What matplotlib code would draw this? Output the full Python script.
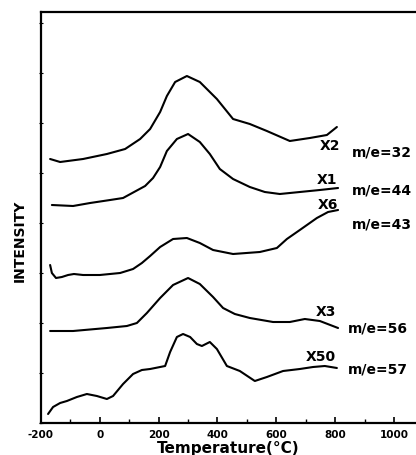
import matplotlib
matplotlib.use("Agg")
import matplotlib.pyplot as plt
from matplotlib.ticker import MultipleLocator

# Temperature (°C) and relative intensity (arbitrary units, stacked offsets as in the figure)
t_32 = [-169, -135, -57, 24, 86, 137, 171, 205, 228, 256, 296, 340, 398, 453, 510, 568, 646, 714, 772, 806]
i_32 = [264, 261, 264, 269, 274, 284, 294, 311, 327, 341, 347, 341, 324, 304, 299, 292, 282, 285, 288, 296]

t_44 = [-163, -91, -33, 35, 79, 154, 181, 205, 228, 262, 300, 340, 374, 408, 453, 510, 561, 612, 680, 748, 810]
i_44 = [218, 217, 220, 223, 225, 237, 245, 256, 272, 284, 289, 281, 269, 254, 244, 236, 231, 229, 231, 233, 235]

t_43 = [-169, -163, -149, -129, -108, -88, -57, 0, 69, 113, 143, 171, 205, 249, 296, 340, 385, 453, 544, 602, 636, 680, 738, 776, 810]
i_43 = [158, 150, 145, 146, 148, 149, 148, 148, 150, 154, 160, 167, 176, 184, 185, 180, 173, 169, 171, 175, 184, 193, 205, 211, 213]

t_56 = [-169, -91, 24, 92, 126, 160, 205, 249, 300, 340, 385, 419, 459, 510, 589, 646, 697, 748, 810]
i_56 = [92, 92, 95, 97, 100, 110, 125, 138, 145, 139, 126, 115, 109, 105, 101, 101, 104, 102, 95]

t_57 = [-176, -159, -135, -112, -78, -44, -10, 24, 45, 79, 113, 143, 171, 205, 222, 239, 262, 283, 307, 330, 347, 374, 398, 432, 476, 527, 568, 623, 680, 725, 765, 806]
i_57 = [9, 16, 20, 22, 26, 29, 27, 24, 27, 39, 49, 53, 54, 56, 57, 71, 86, 89, 86, 79, 77, 81, 74, 57, 52, 42, 46, 52, 54, 56, 57, 55]

series = [
    (t_32, i_32, "X2", (782, 278), "m/e=32", (857, 272)),
    (t_44, i_44, "X1", (772, 244), "m/e=44", (857, 233)),
    (t_43, i_43, "X6", (776, 219), "m/e=43", (857, 199)),
    (t_56, i_56, "X3", (769, 112), "m/e=56", (843, 96)),
    (t_57, i_57, "X50", (752, 67), "m/e=57", (843, 54)),
]

xticks = [-200, 0, 200, 400, 600, 800, 1000]
xticklabels = ["-200", "0", "200", "400", "600", "800", "1000"]

fig = plt.figure(figsize=(4.16, 4.56), dpi=100)
ax = fig.add_axes([41 / 416, 32 / 456, 375 / 416, 411 / 456])

for t, v, mult, mpos, lab, lpos in series:
    ax.plot(t, v, color="black", lw=1.5, solid_capstyle="round")
    ax.text(mpos[0], mpos[1], mult, ha="center", va="center",
            fontsize=10, fontweight="bold", color="black")
    ax.text(lpos[0], lpos[1], lab, ha="left", va="center",
            fontsize=10, fontweight="bold", color="black", clip_on=False)

ax.set_xlim(-200, 1075)
ax.set_ylim(0, 411)

for s in ["left", "bottom", "top"]:
    ax.spines[s].set_linewidth(1.6)
ax.spines["right"].set_visible(False)

ax.set_xticks(xticks)
ax.set_xticklabels(xticklabels, fontsize=7.5, fontweight="bold")
ax.xaxis.set_minor_locator(MultipleLocator(100))
ax.tick_params(axis="x", which="major", direction="in", length=4, width=1.2, pad=4)
ax.tick_params(axis="x", which="minor", direction="in", length=3, width=1.0)
ax.yaxis.set_minor_locator(MultipleLocator(50))
ax.set_yticks([])
ax.tick_params(axis="y", which="minor", direction="inout", length=3, width=0.8, labelleft=False)

fig.text(228 / 416, 1 - 449 / 456, "Temperature(°C)", ha="center", va="center",
         fontsize=11, fontweight="bold")
fig.text(20 / 416, 1 - 241 / 456, "INTENSITY", rotation=90, ha="center", va="center",
         fontsize=10, fontweight="bold", family=["Liberation Sans Narrow", "DejaVu Sans"])

fig.savefig("out.png", dpi=100)
